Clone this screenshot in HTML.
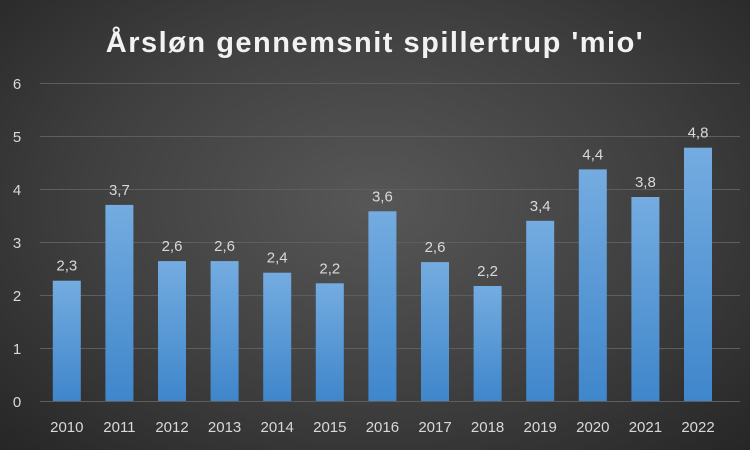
<!DOCTYPE html>
<html><head><meta charset="utf-8"><style>
html,body{margin:0;padding:0;}
body{width:750px;height:450px;overflow:hidden;background:radial-gradient(ellipse at 50% 45%,#575757 0%,#3f3f3f 55%,#262626 100%);font-family:"Liberation Sans",sans-serif;}
svg{display:block;}
</style></head><body>
<svg width="750" height="450" xmlns="http://www.w3.org/2000/svg">
<defs><linearGradient id="g" x1="0" y1="0" x2="0" y2="1"><stop offset="0" stop-color="#74ace0"/><stop offset="1" stop-color="#3f86cb"/></linearGradient></defs>
<text x="375" y="52" text-anchor="middle" fill="#f2f2f2" font-family="Liberation Sans, sans-serif" font-size="29" font-weight="bold" letter-spacing="1.5">Årsløn gennemsnit spillertrup 'mio'</text>
<g stroke="#5e5e5e" stroke-width="1">
<line x1="40" x2="740" y1="83.5" y2="83.5"/><line x1="40" x2="740" y1="136.5" y2="136.5"/><line x1="40" x2="740" y1="189.5" y2="189.5"/><line x1="40" x2="740" y1="242.5" y2="242.5"/><line x1="40" x2="740" y1="295.5" y2="295.5"/><line x1="40" x2="740" y1="348.5" y2="348.5"/><line x1="40" x2="740" y1="401.5" y2="401.5"/>
</g>
<g fill="#d9d9d9" font-size="15" font-family="Liberation Sans, sans-serif" text-anchor="middle">
<text x="17" y="89">6</text><text x="17" y="142">5</text><text x="17" y="195">4</text><text x="17" y="248">3</text><text x="17" y="301">2</text><text x="17" y="354">1</text><text x="17" y="407">0</text>
</g>
<g fill="url(#g)">
<rect x="52.8" y="280.7" width="28" height="120.3"/>
<rect x="105.4" y="204.9" width="28" height="196.1"/>
<rect x="158" y="261.1" width="28" height="139.9"/>
<rect x="210.6" y="261.1" width="28" height="139.9"/>
<rect x="263.2" y="272.7" width="28" height="128.3"/>
<rect x="315.8" y="283.3" width="28" height="117.7"/>
<rect x="368.4" y="211.3" width="28" height="189.7"/>
<rect x="421" y="262.1" width="28" height="138.9"/>
<rect x="473.6" y="286" width="28" height="115"/>
<rect x="526.2" y="220.8" width="28" height="180.2"/>
<rect x="578.8" y="169.4" width="28" height="231.6"/>
<rect x="631.4" y="197" width="28" height="204"/>
<rect x="684" y="147.7" width="28" height="253.3"/>
</g>
<g fill="#d9d9d9" font-size="15" font-family="Liberation Sans, sans-serif" text-anchor="middle">
<text x="66.8" y="270.7">2,3</text>
<text x="119.4" y="194.9">3,7</text>
<text x="172" y="251.1">2,6</text>
<text x="224.6" y="251.1">2,6</text>
<text x="277.2" y="262.7">2,4</text>
<text x="329.8" y="273.3">2,2</text>
<text x="382.4" y="201.3">3,6</text>
<text x="435" y="252.1">2,6</text>
<text x="487.6" y="276">2,2</text>
<text x="540.2" y="210.8">3,4</text>
<text x="592.8" y="159.4">4,4</text>
<text x="645.4" y="187">3,8</text>
<text x="698" y="137.7">4,8</text>
<text x="66.8" y="432">2010</text><text x="119.4" y="432">2011</text><text x="172" y="432">2012</text><text x="224.6" y="432">2013</text><text x="277.2" y="432">2014</text><text x="329.8" y="432">2015</text><text x="382.4" y="432">2016</text><text x="435" y="432">2017</text><text x="487.6" y="432">2018</text><text x="540.2" y="432">2019</text><text x="592.8" y="432">2020</text><text x="645.4" y="432">2021</text><text x="698" y="432">2022</text>
</g>
</svg>
</body></html>
